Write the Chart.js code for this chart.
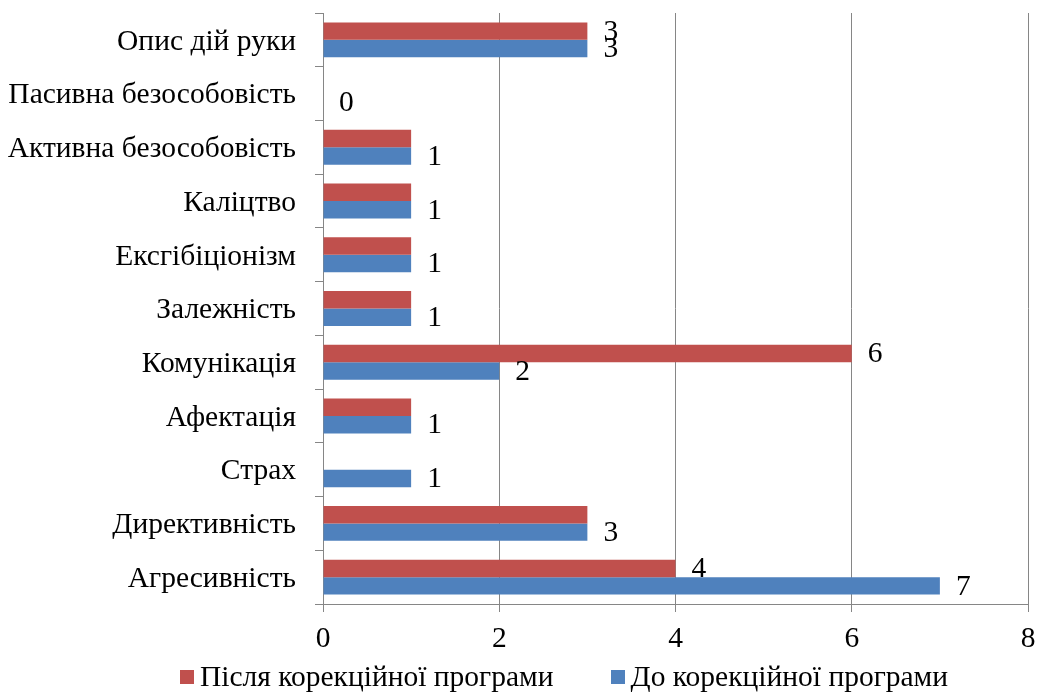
<!DOCTYPE html>
<html>
<head>
<meta charset="utf-8">
<script src="https://cdn.jsdelivr.net/npm/chart.js@4"></script>
<style>
  html, body { margin: 0; padding: 0; background: #fff; }
</style>
</head>
<body>
<canvas id="chart" width="1038" height="695"></canvas>
<script>
// categories, top to bottom
const categories = [
  "Опис дій руки",
  "Пасивна безособовість",
  "Активна безособовість",
  "Каліцтво",
  "Ексгібіціонізм",
  "Залежність",
  "Комунікація",
  "Афектація",
  "Страх",
  "Директивність",
  "Агресивність"
];
const afterValues = [3, 0, 1, 1, 1, 1, 6, 1, 0, 3, 4];
const beforeValues = [3, 0, 1, 1, 1, 1, 2, 1, 1, 3, 7];
// which values carry a number next to the bar
const afterLabelShown = [true, false, false, false, false, false, true, false, false, false, true];
const beforeLabelShown = [true, true, true, true, true, true, true, true, true, true, true];
const xTicks = [0, 2, 4, 6, 8];

const FONT = "'Liberation Serif', 'Times New Roman', serif";
const FONT_SIZE = 29.5;
const GRID = "#868686";

const valueLabels = {
  id: "valueLabels",
  afterDatasetsDraw(chart) {
    const ctx = chart.ctx;
    ctx.save();
    ctx.font = FONT_SIZE + "px " + FONT;
    ctx.fillStyle = "#000";
    ctx.textAlign = "left";
    ctx.textBaseline = "middle";
    chart.data.datasets.forEach((ds, di) => {
      const meta = chart.getDatasetMeta(di);
      meta.data.forEach((bar, i) => {
        if (!ds.labelShown[i]) return;
        ctx.fillText(String(ds.data[i]), bar.x + 16, bar.y + 1);
      });
    });
    ctx.restore();
  }
};

// legend row under the axis: square swatch, then the series name
const bottomLegend = {
  id: "bottomLegend",
  afterDraw(chart) {
    const ctx = chart.ctx;
    ctx.save();
    ctx.font = FONT_SIZE + "px " + FONT;
    ctx.textAlign = "left";
    ctx.textBaseline = "middle";
    const box = 14, gap = 6, between = 57, centerX = 564, y = 677;
    const items = chart.data.datasets.map(ds => ({
      text: ds.label,
      color: ds.backgroundColor,
      w: ctx.measureText(ds.label).width
    }));
    const total = items.reduce((s, it) => s + box + gap + it.w, 0) + between * (items.length - 1);
    let x = centerX - total / 2;
    items.forEach(it => {
      ctx.fillStyle = it.color;
      ctx.fillRect(Math.round(x), y - box / 2, box, box);
      ctx.fillStyle = "#000";
      ctx.fillText(it.text, x + box + gap, y + 1);
      x += box + gap + it.w + between;
    });
    ctx.restore();
  }
};

new Chart(document.getElementById("chart"), {
  type: "bar",
  data: {
    labels: categories,
    datasets: [
      {
        label: "Після корекційної програми",
        data: afterValues,
        labelShown: afterLabelShown,
        backgroundColor: "#C0504D",
        borderColor: "#C0504D",
        borderWidth: 0
      },
      {
        label: "До корекційної програми",
        data: beforeValues,
        labelShown: beforeLabelShown,
        backgroundColor: "#4F81BD",
        borderColor: "#4F81BD",
        borderWidth: 0
      }
    ]
  },
  options: {
    indexAxis: "y",
    responsive: false,
    animation: false,
    devicePixelRatio: 1,
    categoryPercentage: 0.65,
    barPercentage: 1.0,
    layout: { padding: { top: 13, right: 10, bottom: 0, left: 0 } },
    scales: {
      x: {
        min: xTicks[0],
        max: xTicks[xTicks.length - 1],
        afterFit: (scale) => {
          scale.height = 91;
          scale.paddingLeft = 0;
          scale.paddingRight = 0;
        },
        afterBuildTicks: (scale) => { scale.ticks = xTicks.map(v => ({ value: v })); },
        ticks: { color: "#000", font: { family: FONT, size: FONT_SIZE }, padding: 10 },
        grid: { color: GRID, lineWidth: 1, tickLength: 8 },
        border: { color: GRID, width: 1 }
      },
      y: {
        afterFit: (scale) => {
          scale.width = 323;
          scale.paddingTop = 0;
          scale.paddingBottom = 0;
        },
        ticks: { color: "#000", font: { family: FONT, size: FONT_SIZE }, padding: 19, labelOffset: 2 },
        grid: { color: GRID, offset: true, drawOnChartArea: false, tickLength: 8 },
        border: { color: GRID, width: 1 }
      }
    },
    plugins: {
      tooltip: { enabled: false },
      legend: { display: false }
    }
  },
  plugins: [valueLabels, bottomLegend]
});
</script>
</body>
</html>
